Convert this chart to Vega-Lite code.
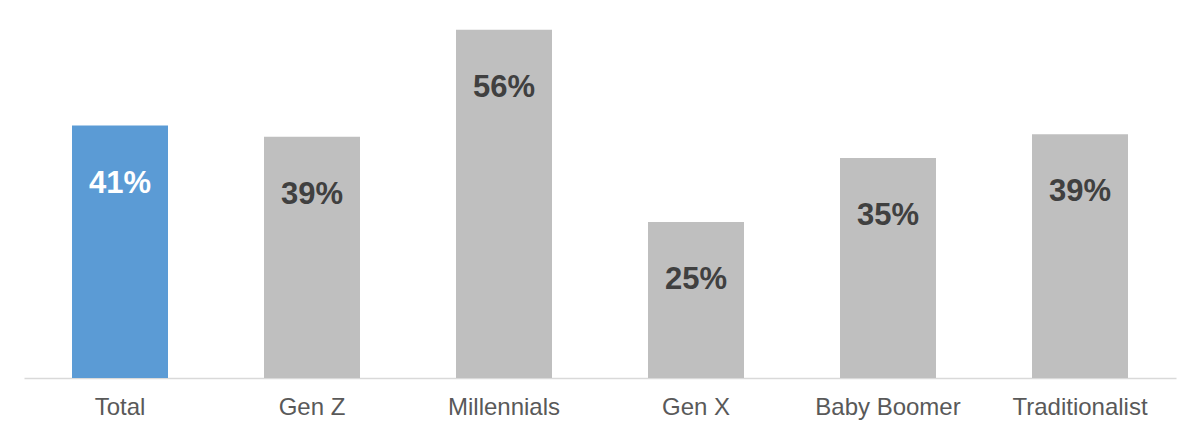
{
  "$schema": "https://vega.github.io/schema/vega-lite/v6.json",
  "autosize": "none",
  "width": 1152,
  "height": 373,
  "padding": {"left": 24, "right": 24, "top": 5, "bottom": 57},
  "background": "white",
  "config": {"view": {"stroke": null}, "font": "Liberation Sans"},
  "data": {
    "values": [
      {"group": "Total", "value": 40.6, "label": "41%", "highlight": "yes"},
      {"group": "Gen Z", "value": 38.8, "label": "39%", "highlight": "no"},
      {"group": "Millennials", "value": 56, "label": "56%", "highlight": "no"},
      {"group": "Gen X", "value": 25.1, "label": "25%", "highlight": "no"},
      {"group": "Baby Boomer", "value": 35.4, "label": "35%", "highlight": "no"},
      {"group": "Traditionalist", "value": 39.2, "label": "39%", "highlight": "no"}
    ]
  },
  "encoding": {
    "x": {
      "field": "group",
      "type": "nominal",
      "sort": null,
      "scale": {"paddingInner": 0.5, "paddingOuter": 0.25},
      "axis": {
        "title": null,
        "labelAngle": 0,
        "labelFontSize": 24,
        "labelColor": "#595959",
        "labelPadding": 17,
        "ticks": false,
        "domainColor": "#D9D9D9",
        "domainWidth": 1.5
      }
    },
    "y": {
      "field": "value",
      "type": "quantitative",
      "scale": {"domain": [0, 60]},
      "axis": null
    }
  },
  "layer": [
    {
      "mark": {"type": "bar"},
      "encoding": {
        "color": {
          "field": "highlight",
          "type": "nominal",
          "scale": {"domain": ["yes", "no"], "range": ["#5B9BD5", "#BFBFBF"]},
          "legend": null
        }
      }
    },
    {
      "mark": {"type": "text", "fontSize": 31, "fontWeight": "bold", "baseline": "middle", "dy": 58},
      "encoding": {
        "text": {"field": "label"},
        "color": {
          "field": "highlight",
          "type": "nominal",
          "scale": {"domain": ["yes", "no"], "range": ["#FFFFFF", "#404040"]},
          "legend": null
        }
      }
    }
  ],
  "resolve": {"scale": {"color": "independent"}}
}
